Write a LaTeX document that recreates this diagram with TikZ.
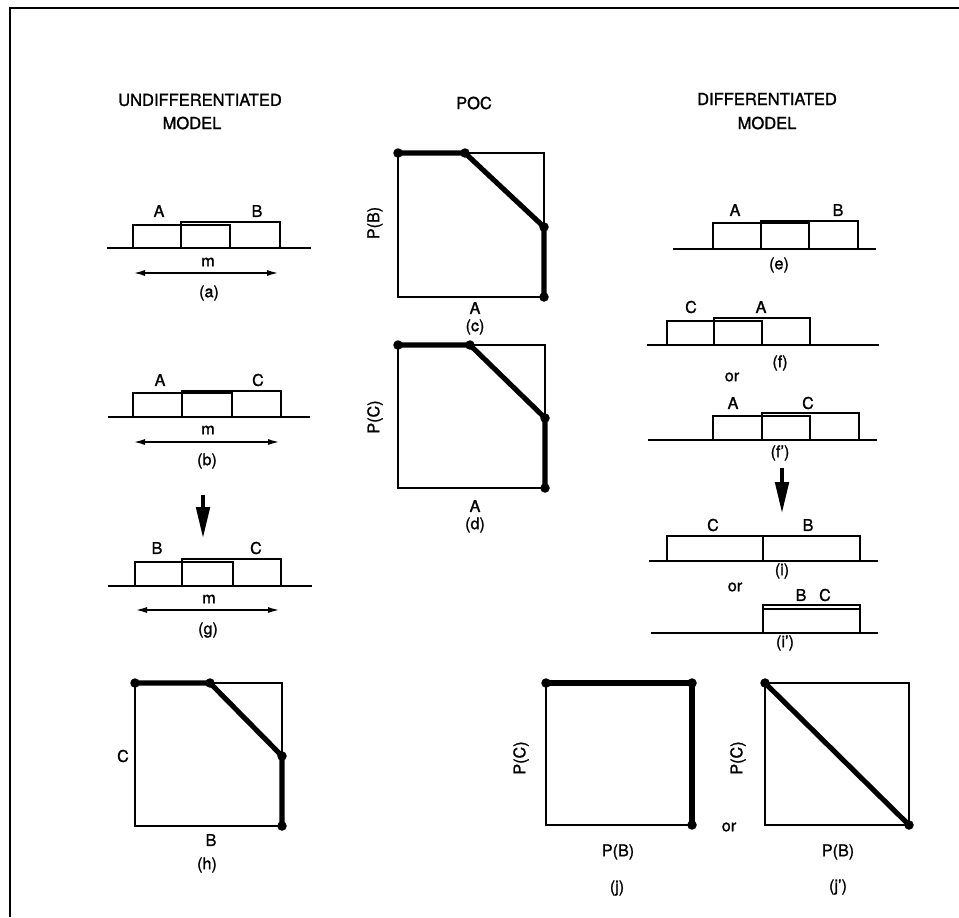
\documentclass[tikz,border=0pt]{standalone}
\usepackage{fontspec}
\setmainfont{TeX Gyre Heros}[BoldFont=TeX Gyre Heros,BoldFeatures={FakeBold=1.3}]
\usetikzlibrary{arrows.meta}

\begin{document}
\begin{tikzpicture}[
  x=0.02cm,
  y=-0.02cm,
  font=\fontsize{9.2}{11}\selectfont\bfseries,
  >=Latex,
  lbl/.style={inner sep=0pt,anchor=center},
  hdr/.style={lbl,font=\fontsize{9.4}{11}\selectfont\bfseries},
  border/.style={line width=1.5pt},
  ground/.style={line width=1.3pt},
  dist/.style={line width=1.3pt},
  sq/.style={line width=1.3pt},
  frontier/.style={line width=2.9pt,line join=round},
  dot/.style={circle,fill=black,inner sep=0pt,minimum size=0.19cm},
  mspan/.style={{Latex[length=0.24cm,width=0.12cm]}-{Latex[length=0.24cm,width=0.12cm]},line width=1.1pt},
  move/.style={-{Triangle[length=0.62cm,width=0.27cm]},line width=2pt}
]
\useasboundingbox (0,0) rectangle (959,917);

\coordinate (tl) at (10,8);
\coordinate (tr) at (959,8);
\coordinate (bl) at (10,917);
\draw[border] (tr) -- (tl) -- (bl);

\node[hdr] (undiff) at (200,100) {UNDIFFERENTIATED};
\node[hdr] (undiffm) at (192,123) {MODEL};
\node[hdr] (poc) at (474,103) {POC};
\node[hdr] (diff) at (767,99) {DIFFERENTIATED};
\node[hdr] (diffm) at (767,123) {MODEL};

% undifferentiated model
\draw[ground] (107,248) -- (311,248);
\draw[dist] (133,248) rectangle (230,225);
\draw[dist] (181,248) rectangle (280,222);
\node[lbl] (a-A) at (159,211) {A};
\node[lbl] (a-B) at (257,211) {B};
\node[lbl] (a-m) at (208,262) {m};
\coordinate (a-l) at (133,273);
\coordinate (a-r) at (279,273);
\draw[mspan] (a-l) -- (a-r);
\node[lbl] (a-cap) at (209,293) {(a)};

\draw[ground] (108,417) -- (310,417);
\draw[dist] (133,417) rectangle (232,393);
\draw[dist] (182,417) rectangle (281,391);
\node[lbl] (b-A) at (160,380) {A};
\node[lbl] (b-C) at (258,380) {C};
\node[lbl] (b-m) at (208,430) {m};
\coordinate (b-l) at (133,442);
\coordinate (b-r) at (280,442);
\draw[mspan] (b-l) -- (b-r);
\node[lbl] (b-cap) at (207,461) {(b)};

\coordinate (u-top) at (203,495);
\coordinate (u-bot) at (203,538);
\draw[move] (u-top) -- (u-bot);

\draw[ground] (108,586) -- (312,586);
\draw[dist] (135,586) rectangle (233,562);
\draw[dist] (182,586) rectangle (281,559);
\node[lbl] (g-B) at (157,548) {B};
\node[lbl] (g-C) at (256,548) {C};
\node[lbl] (g-m) at (209,599) {m};
\coordinate (g-l) at (135,610);
\coordinate (g-r) at (280,610);
\draw[mspan] (g-l) -- (g-r);
\node[lbl] (g-cap) at (208,630) {(g)};

\draw[sq] (135,683) rectangle (282,826);
\node[dot] (h1) at (135,683) {};
\node[dot] (h2) at (210,683) {};
\node[dot] (h3) at (282,756) {};
\node[dot] (h4) at (282,826) {};
\draw[frontier] (h1.center) -- (h2.center) -- (h3.center) -- (h4.center);
\node[lbl] (h-C) at (123,756) {C};
\node[lbl] (h-B) at (211,840) {B};
\node[lbl] (h-cap) at (207,865) {(h)};

% POC
\draw[sq] (398,153) rectangle (544,297);
\node[dot] (c1) at (398,153) {};
\node[dot] (c2) at (465,153) {};
\node[dot] (c3) at (544,227) {};
\node[dot] (c4) at (544,297) {};
\draw[frontier] (c1.center) -- (c2.center) -- (c3.center) -- (c4.center);
\node[lbl,rotate=90] (c-P) at (375,223) {P(B)};
\node[lbl] (c-A) at (475,308) {A};
\node[lbl] (c-cap) at (475,327) {(c)};

\draw[sq] (398,345) rectangle (545,488);
\node[dot] (d1) at (398,345) {};
\node[dot] (d2) at (470,345) {};
\node[dot] (d3) at (545,418) {};
\node[dot] (d4) at (545,488) {};
\draw[frontier] (d1.center) -- (d2.center) -- (d3.center) -- (d4.center);
\node[lbl,rotate=90] (d-P) at (375,417) {P(C)};
\node[lbl] (d-A) at (475,506) {A};
\node[lbl] (d-cap) at (475,525) {(d)};

% differentiated model
\draw[ground] (673,249) -- (876,249);
\draw[dist] (713,249) rectangle (809,223);
\draw[dist] (761,249) rectangle (858,221);
\node[lbl] (e-A) at (735,210) {A};
\node[lbl] (e-B) at (838,210) {B};
\node[lbl] (e-cap) at (779,265) {(e)};

\draw[ground] (647,345) -- (879,345);
\draw[dist] (667,345) rectangle (762,321);
\draw[dist] (714,345) rectangle (810,318);
\node[lbl] (f-C) at (691,307) {C};
\node[lbl] (f-A) at (761,307) {A};
\node[lbl] (f-cap) at (780,363) {(f)};
\node[lbl] (or1) at (732,377) {or};

\draw[ground] (648,440) -- (877,440);
\draw[dist] (713,440) rectangle (810,416);
\draw[dist] (762,440) rectangle (859,413);
\node[lbl] (fp-A) at (733,403) {A};
\node[lbl] (fp-C) at (808,403) {C};
\node[lbl] (fp-cap) at (780,453) {(f')};

\coordinate (d-top) at (782,468);
\coordinate (d-bot) at (782,513);
\draw[move] (d-top) -- (d-bot);

\draw[ground] (649,561) -- (878,561);
\draw[dist] (667,561) rectangle (763,536);
\draw[dist] (763,561) rectangle (860,536);
\node[lbl] (i-C) at (713,525) {C};
\node[lbl] (i-B) at (808,525) {B};
\node[lbl] (i-cap) at (782,571) {(i)};
\node[lbl] (or2) at (735,587) {or};

\draw[ground] (651,633) -- (878,633);
\draw[dist] (763,633) rectangle (860,605);
\draw[dist] (763,633) rectangle (860,609);
\node[lbl] (ip-B) at (801,595) {B};
\node[lbl] (ip-C) at (825,595) {C};
\node[lbl] (ip-cap) at (785,643) {(i')};

\draw[sq] (546,683) rectangle (692,825);
\node[dot] (j1) at (546,683) {};
\node[dot] (j2) at (692,683) {};
\node[dot] (j3) at (692,825) {};
\draw[frontier] (j1.center) -- (j2.center) -- (j3.center);
\node[lbl,rotate=90] (j-P) at (521,758) {P(C)};
\node[lbl] (j-B) at (618,852) {P(B)};
\node[lbl] (j-cap) at (617,888) {(j)};
\node[lbl] (or3) at (729,827) {or};

\draw[sq] (765,683) rectangle (909,825);
\node[dot] (jp1) at (765,683) {};
\node[dot] (jp2) at (909,825) {};
\draw[frontier] (jp1.center) -- (jp2.center);
\node[lbl,rotate=90] (jp-P) at (738,758) {P(C)};
\node[lbl] (jp-B) at (838,852) {P(B)};
\node[lbl] (jp-cap) at (838,887) {(j')};
\end{tikzpicture}
\end{document}
